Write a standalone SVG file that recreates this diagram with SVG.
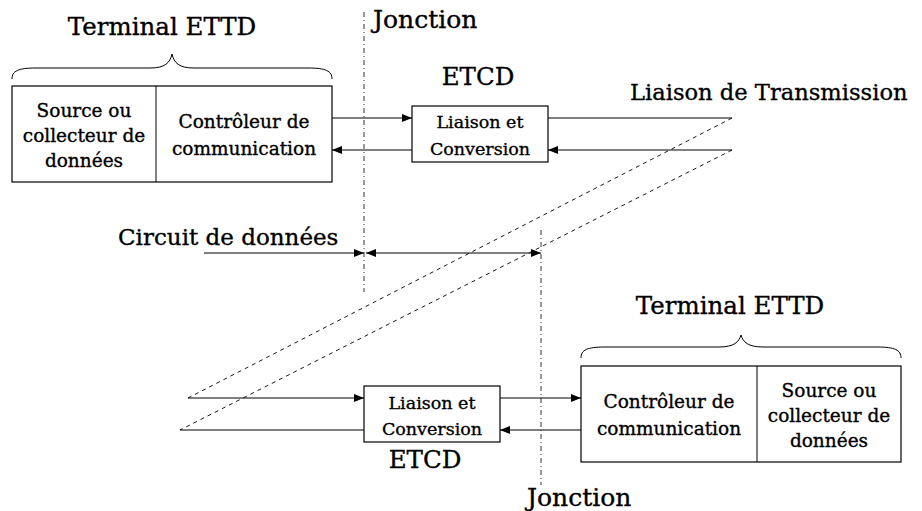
<svg xmlns="http://www.w3.org/2000/svg" width="922" height="511" viewBox="0 0 922 511">
<style>
text{font-family:"DejaVu Serif","Liberation Serif",serif;fill:#000;stroke:#000;stroke-width:0.35}
.big{font-size:23px}
.sm{font-size:17.5px;text-anchor:middle}
.md{font-size:18.5px;text-anchor:middle}
.box{fill:#fff;stroke:#000;stroke-width:1.2}
.ln{fill:none;stroke:#000;stroke-width:1}
.dd{fill:none;stroke:#000;stroke-width:0.8;stroke-dasharray:5 3 1 3}
.ds{fill:none;stroke:#000;stroke-width:0.9;stroke-dasharray:4 4}
.arr{marker-end:url(#ah)}
</style>
<defs>
<marker id="ah" viewBox="0 0 10 8" refX="10" refY="4" markerWidth="10" markerHeight="8" markerUnits="userSpaceOnUse" orient="auto">
<path d="M0,0 L10,4 L0,8 z" fill="#000"/>
</marker>
</defs>
<g id="labels">
<text class="big" x="162" y="35" text-anchor="middle" style="font-size:24.5px">Terminal ETTD</text>
<text class="big" x="373" y="28" style="font-size:25px">Jonction</text>
<text class="big" x="478" y="85" text-anchor="middle" style="font-size:24.5px">ETCD</text>
<text class="big" x="630" y="100" style="font-size:22.6px">Liaison de Transmission</text>
<text class="big" x="118" y="245">Circuit de données</text>
<text class="big" x="730" y="314" text-anchor="middle" style="font-size:24.5px">Terminal ETTD</text>
<text class="big" x="425" y="468" text-anchor="middle" style="font-size:24.5px">ETCD</text>
<text class="big" x="527" y="506" style="font-size:25px">Jonction</text>
</g>
<g id="connectors">
<path class="dd" d="M364,12 V292"/>
<path class="dd" d="M541,230 V485"/>
<path class="ds" d="M732,118 L188,398"/>
<path class="ds" d="M732,150 L180,430"/>
<path class="ln arr" d="M332,118 H412"/>
<path class="ln arr" d="M412,150 H332"/>
<path class="ln" d="M548,118 H732"/>
<path class="ln arr" d="M732,150 H548"/>
<path class="ln arr" d="M188,398 H364"/>
<path class="ln" d="M180,430 H364"/>
<path class="ln arr" d="M500,398 H581"/>
<path class="ln arr" d="M581,430 H500"/>
<path class="ln arr" d="M204,253 H364"/>
<path class="ln arr" d="M452,253 H366"/>
<path class="ln arr" d="M452,253 H541"/>
</g>
<g id="ettd-top">
<path class="ln" d="M12,79 C12,71 18,68 36,68 L150,68 C165,68 170,63 172,54 C174,63 179,68 194,68 L308,68 C326,68 332,71 332,79"/>
<rect class="box" x="12" y="86" width="320" height="96"/>
<path class="ln" d="M156,86 V182"/>
<text class="md" x="84" y="117">Source ou</text>
<text class="md" x="84" y="142">collecteur de</text>
<text class="md" x="84" y="167">données</text>
<text class="md" x="244" y="128">Contrôleur de</text>
<text class="md" x="244" y="155">communication</text>
</g>
<g id="etcd-top">
<rect class="box" x="412" y="106" width="136" height="56"/>
<text class="sm" x="480" y="128">Liaison et</text>
<text class="sm" x="480" y="155">Conversion</text>
</g>
<g id="etcd-bottom">
<rect class="box" x="364" y="386" width="136" height="56"/>
<text class="sm" x="432" y="409">Liaison et</text>
<text class="sm" x="432" y="435">Conversion</text>
</g>
<g id="ettd-bottom">
<path class="ln" d="M581,358 C581,350 587,347 605,347 L719,347 C734,347 739,342 741,335 C743,342 748,347 763,347 L877,347 C895,347 901,350 901,358"/>
<rect class="box" x="581" y="366" width="320" height="96"/>
<path class="ln" d="M757,366 V462"/>
<text class="md" x="669" y="408">Contrôleur de</text>
<text class="md" x="669" y="435">communication</text>
<text class="md" x="829" y="397">Source ou</text>
<text class="md" x="829" y="422">collecteur de</text>
<text class="md" x="829" y="447">données</text>
</g>
</svg>
